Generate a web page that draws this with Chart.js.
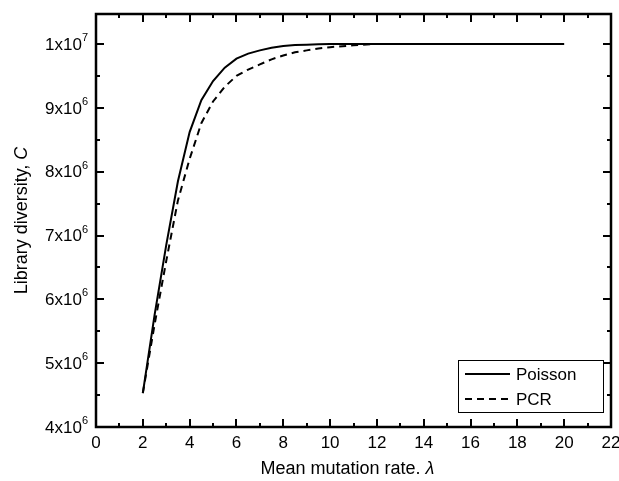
<!DOCTYPE html>
<html>
<head>
<meta charset="utf-8">
<script src="https://cdn.jsdelivr.net/npm/chart.js@4/dist/chart.umd.min.js"></script>
<style>
  html,body{margin:0;padding:0;background:#fff;}
  #wrap{width:619px;height:481px;position:relative;}
</style>
</head>
<body>
<div id="wrap"><canvas id="ch" width="619" height="481"></canvas></div>
<script>
// λ 值 (x)
const lambdaVals = [2,2.5,3,3.5,4,4.5,5,5.5,6,6.5,7,7.5,8,8.5,9,9.5,10,11,12,13,14,15,16,17,18,19,20];
// 多樣性 C，單位 10^6
const poissonC = [4.53,5.75,6.85,7.85,8.62,9.12,9.42,9.63,9.77,9.85,9.90,9.94,9.97,9.985,9.99,9.995,10,10,10,10,10,10,10,10,10,10,10];
const pcrC     = [4.53,5.60,6.60,7.55,8.20,8.76,9.10,9.33,9.50,9.60,9.68,9.76,9.82,9.87,9.90,9.93,9.95,9.98,10,10,10,10,10,10,10,10,10];
// 刻度
const xTicks = [0,2,4,6,8,10,12,14,16,18,20,22];
const yTicks = [4,5,6,7,8,9,10];
const yTickMant = ['4','5','6','7','8','9','1'];
const yTickExp  = ['6','6','6','6','6','6','7'];
const seriesNames = ['Poisson','PCR'];
const xTitle = ['Mean mutation rate. ', 'λ'];
const yTitle = ['Library diversity, ', 'C'];

const FONT = '"Liberation Sans", Arial, Helvetica, sans-serif';
const pts = arr => lambdaVals.map((x,i)=>({x, y:arr[i]}));

// 框線、內向刻度、刻度文字、軸標題、圖例
const decor = {
  id:'decor',
  afterDraw(chart){
    const {ctx, chartArea:a, scales:{x, y}} = chart;
    ctx.save();
    ctx.strokeStyle = '#000'; ctx.fillStyle = '#000';
    // ticks
    ctx.lineWidth = 2;
    const tk = (x1,y1,x2,y2)=>{ ctx.beginPath(); ctx.moveTo(x1,y1); ctx.lineTo(x2,y2); ctx.stroke(); };
    for(let v=0; v<=22; v+=1){
      const px = Math.round(x.getPixelForValue(v));
      const L = v%2===0 ? 8 : 4;
      tk(px, a.bottom, px, a.bottom-L);
      tk(px, a.top, px, a.top+L);
    }
    for(let v=4; v<=10.4; v+=0.5){
      const py = Math.round(y.getPixelForValue(v));
      const L = Number.isInteger(v) ? 8 : 4;
      tk(a.left, py, a.left+L, py);
      tk(a.right, py, a.right-L, py);
    }
    // frame
    ctx.lineWidth = 2.5;
    ctx.strokeRect(a.left, a.top, a.right-a.left, a.bottom-a.top);

    // x tick labels
    ctx.font = '17px ' + FONT;
    ctx.textAlign = 'center'; ctx.textBaseline = 'middle';
    xTicks.forEach(v=> ctx.fillText(String(v), x.getPixelForValue(v), a.bottom+16));

    // y tick labels with superscript
    yTicks.forEach((v,i)=>{
      const py = y.getPixelForValue(v);
      ctx.font = '11px ' + FONT;
      const we = ctx.measureText(yTickExp[i]).width;
      ctx.textAlign = 'left'; ctx.textBaseline = 'middle';
      const xe = a.left - 8 - we;
      ctx.fillText(yTickExp[i], xe, py-6);
      ctx.font = '17px ' + FONT;
      ctx.textAlign = 'right';
      ctx.fillText(yTickMant[i] + 'x10', xe, py+1);
    });

    // axis titles (mixed italic)
    const drawMixed = (parts, cx, cy)=>{
      ctx.textBaseline = 'middle'; ctx.textAlign = 'left';
      ctx.font = '18px ' + FONT; const w0 = ctx.measureText(parts[0]).width;
      ctx.font = 'italic 18px ' + FONT; const w1 = ctx.measureText(parts[1]).width;
      let sx = cx - (w0+w1)/2;
      ctx.font = '18px ' + FONT; ctx.fillText(parts[0], sx, cy);
      ctx.font = 'italic 18px ' + FONT; ctx.fillText(parts[1], sx+w0, cy);
    };
    drawMixed(xTitle, (a.left+a.right)/2 - 6, 469);
    ctx.save();
    ctx.translate(22, (a.top+a.bottom)/2);
    ctx.rotate(-Math.PI/2);
    drawMixed(yTitle, 0, 0);
    ctx.restore();

    // legend box
    const bx = 458, by = 360, bw = 145, bh = 52;
    ctx.lineWidth = 1;
    ctx.strokeRect(bx+0.5, by+0.5, bw, bh);
    chart.data.datasets.forEach((ds,i)=>{
      const ly = by + 14 + i*25;
      ctx.lineWidth = 2;
      ctx.setLineDash(ds.borderDash || []);
      tk(bx+7, ly, bx+52, ly);
      ctx.setLineDash([]);
      ctx.font = '17px ' + FONT;
      ctx.textAlign = 'left'; ctx.textBaseline = 'middle';
      ctx.fillText(ds.label, bx+58, ly+1);
    });
    ctx.restore();
  }
};

new Chart(document.getElementById('ch'), {
  type:'line',
  data:{
    datasets:[
      { label:seriesNames[0], data:pts(poissonC), borderColor:'#000', borderWidth:2, pointRadius:0, tension:0, fill:false },
      { label:seriesNames[1], data:pts(pcrC), borderColor:'#000', borderWidth:2, borderDash:[7,5], pointRadius:0, tension:0, fill:false }
    ]
  },
  options:{
    responsive:false, animation:false, devicePixelRatio:1,
    layout:{ padding:{ top:14, right:8, left:0, bottom:0 } },
    plugins:{ legend:{ display:false }, tooltip:{ enabled:false } },
    scales:{
      x:{ type:'linear', min:0, max:22,
          grid:{ display:false }, border:{ display:false }, ticks:{ display:false },
          afterFit: s => { s.height = 54; } },
      y:{ type:'linear', min:4, max:10.47,
          grid:{ display:false }, border:{ display:false }, ticks:{ display:false },
          afterFit: s => { s.width = 96; } }
    }
  },
  plugins:[decor]
});
</script>
</body>
</html>
